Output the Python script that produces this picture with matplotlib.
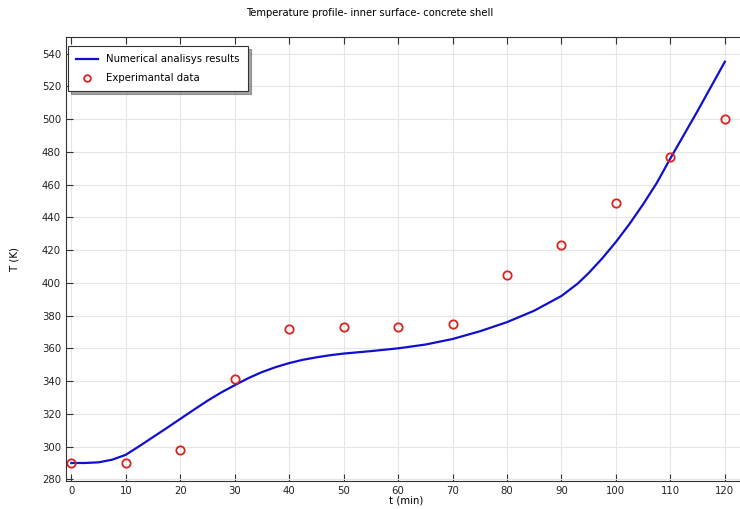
import matplotlib.pyplot as plt

# simulation curve
t_num = [0, 2.5, 5, 7.5, 10, 12.5, 15, 17.5, 20, 22.5, 25, 27.5, 30, 32.5, 35, 37.5,
         40, 42.5, 45, 47.5, 50, 55, 60, 65, 70, 75, 80, 85, 90, 93, 95, 97.5,
         100, 102.5, 105, 107.5, 110, 115, 120]
T_num = [290, 290, 290.4, 292, 295, 300.3, 305.8, 311.3, 316.9, 322.5, 328, 333, 337.5,
         341.8, 345.5, 348.5, 351, 353, 354.5, 355.8, 356.8, 358.3, 360, 362.3, 365.7,
         370.4, 376, 383, 392, 399.6, 406, 415, 425, 436, 448, 461, 476, 505, 535]

# experimental points
t_exp = [0, 10, 20, 30, 40, 50, 60, 70, 80, 90, 100, 110, 120]
T_exp = [290, 290, 298, 341, 372, 373, 373, 375, 405, 423, 449, 477, 500]

fig = plt.figure(figsize=(7.4, 5.09), dpi=100)
ax = fig.add_axes([0.089, 0.055, 0.92, 0.872])

ax.plot(t_num, T_num, color='#1010cc', lw=1.6, label='Numerical analisys results')
ax.plot(t_exp, T_exp, 'o', mfc='none', mec='#dd2222', mew=1.3, ms=6, label='Experimantal data')

ax.set_xlim(-1, 124)
ax.set_ylim(279, 550)
ax.set_xticks(range(0, 121, 10))
ax.set_yticks(range(280, 541, 20))
ax.tick_params(direction='in', labelsize=7.3, top=True, length=5, color='#333333',
               labelcolor='#222222')
ax.grid(True, color='#e6e6e6', lw=0.8)
for s in ['left', 'bottom', 'top']:
    ax.spines[s].set_color('#333333')
ax.spines['right'].set_visible(False)

ax.set_xlabel('t (min)', fontsize=7.3, labelpad=0)
ax.set_ylabel('T (K)', fontsize=7.3, labelpad=16)
fig.suptitle('Temperature profile- inner surface- concrete shell', fontsize=7.2, y=0.985, x=0.5)

leg = ax.legend(loc='upper left', bbox_to_anchor=(0.003, 0.98), borderaxespad=0,
                fontsize=7.3, fancybox=False, shadow=True, edgecolor='#333333',
                handlelength=2.2, borderpad=0.8, labelspacing=0.9, markerscale=0.8)
leg.get_frame().set_linewidth(0.8)

fig.savefig('out.png', dpi=100)
